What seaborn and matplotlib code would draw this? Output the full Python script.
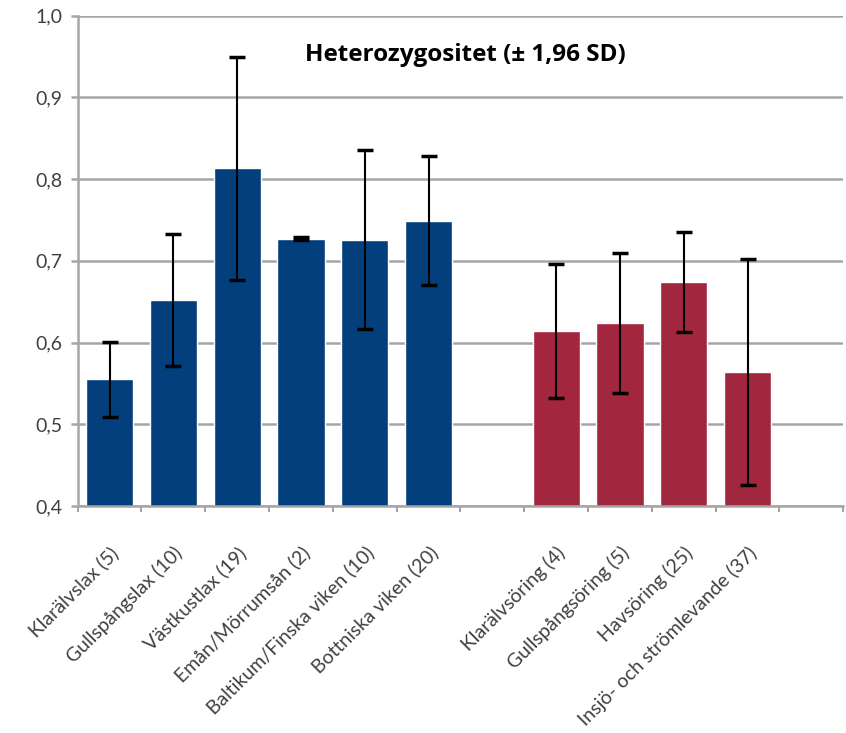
import matplotlib
matplotlib.use("Agg")
import matplotlib.pyplot as plt
import matplotlib.ticker as mticker
import seaborn as sns
import pandas as pd
import numpy as np

# Heterozygosity per population (mean and 1.96 SD)
lax_names = ["Klarälvslax (5)", "Gullspångslax (10)", "Västkustlax (19)",
             "Emån/Mörrumsån (2)", "Baltikum/Finska viken (10)", "Bottniska viken (20)"]
lax_mean = [0.555, 0.652, 0.813, 0.727, 0.726, 0.749]
lax_err = [0.046, 0.081, 0.136, 0.002, 0.110, 0.079]

oring_names = ["Klarälvsöring (4)", "Gullspångsöring (5)", "Havsöring (25)",
               "Insjö- och strömlevande (37)"]
oring_mean = [0.614, 0.624, 0.674, 0.564]
oring_err = [0.082, 0.086, 0.061, 0.138]

title = "Heterozygositet (± 1,96 SD)"
y_ticks = [0.4, 0.5, 0.6, 0.7, 0.8, 0.9, 1.0]

blue = "#023F7C"
red = "#A3263F"

df = pd.DataFrame({
    "pop": lax_names + oring_names,
    "het": lax_mean + oring_mean,
    "err": lax_err + oring_err,
    "grp": ["lax"] * len(lax_names) + ["öring"] * len(oring_names),
})

# empty slots separate the two groups and close the axis on the right
order = lax_names + [" "] + oring_names + ["  "]

sns.set_theme(style="white")
plt.rcParams["font.family"] = ["Lato", "DejaVu Sans"]

fig = plt.figure(figsize=(8.46, 7.33), dpi=100)
ax = fig.add_axes([0.0918, 0.3097, 0.905, 0.6689])

sns.barplot(data=df, x="pop", y="het", hue="grp", order=order,
            palette={"lax": blue, "öring": red}, dodge=False, width=0.74,
            saturation=1, errorbar=None, legend=False, ax=ax, zorder=2)

xpos = [order.index(p) for p in df["pop"]]
ax.errorbar(xpos, df["het"], yerr=df["err"], fmt="none", ecolor="black",
            elinewidth=1.5, capsize=6, capthick=2.5, zorder=3)

ax.set_ylim(0.4, 1.0)
ax.set_xlim(-0.5, len(order) - 0.5)
ax.set_yticks(y_ticks)
ax.yaxis.set_major_formatter(mticker.FuncFormatter(lambda v, p: f"{v:.1f}".replace(".", ",")))
ax.yaxis.grid(True, color="#A6A6A6", linewidth=1.8, zorder=0)
ax.set_axisbelow(True)

for s in ["top", "right"]:
    ax.spines[s].set_visible(False)
for s in ["left", "bottom"]:
    ax.spines[s].set_color("#A6A6A6")
    ax.spines[s].set_linewidth(1.8)

ax.tick_params(axis="y", which="major", length=5, width=1.8, color="#A6A6A6",
               labelsize=14, labelcolor="#404040", pad=6, left=True)
ax.set_xticks(range(len(order)))
ax.set_xticklabels(order, rotation=45, ha="right", rotation_mode="anchor",
                   fontsize=14, color="#404040")
ax.tick_params(axis="x", which="major", length=0, pad=27)
ax.set_xticks(np.arange(-0.5, len(order)), minor=True)
ax.tick_params(axis="x", which="minor", length=4, width=1.5, color="#A6A6A6", bottom=True)

ax.set_xlabel("")
ax.set_ylabel("")
ax.text(0.506, 0.952, title, transform=ax.get_yaxis_transform(), ha="center",
        va="center", fontsize=17.5, fontweight="bold", color="black",
        family=["Open Sans", "DejaVu Sans"])

fig.savefig("out.png", dpi=100)
